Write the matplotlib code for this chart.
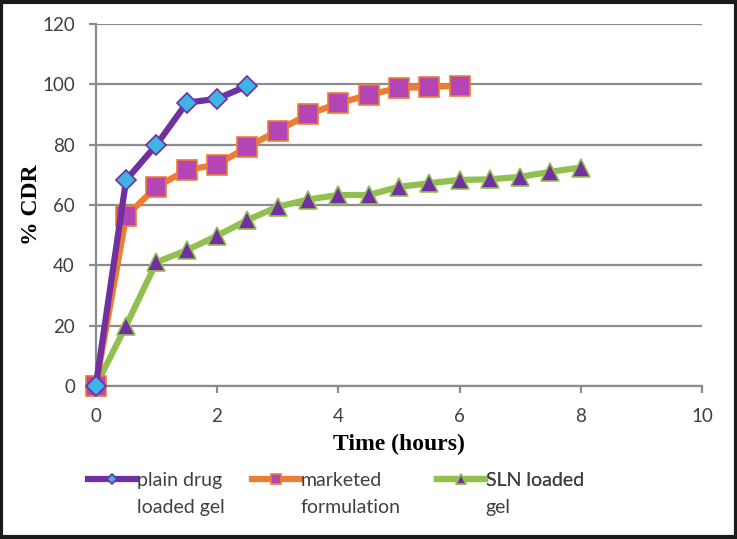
import numpy as np
from matplotlib import pyplot as plt
from matplotlib.patches import Rectangle

# release data (% CDR vs time in hours)
t_plain = [0, 0.5, 1, 1.5, 2, 2.5]
cdr_plain = [0, 68.3, 79.9, 93.9, 95.2, 99.5]

t_marketed = [0, 0.5, 1, 1.5, 2, 2.5, 3, 3.5, 4, 4.5, 5, 5.5, 6]
cdr_marketed = [0, 56.3, 66, 71.6, 73.4, 79.2, 84.6, 90, 93.7, 96.5, 98.8, 99.1, 99.6]

t_sln = [0, 0.5, 1, 1.5, 2, 2.5, 3, 3.5, 4, 4.5, 5, 5.5, 6, 6.5, 7, 7.5, 8]
cdr_sln = [0, 20, 41, 45, 49.8, 55, 59.4, 61.8, 63.3, 63.3, 66, 67.2, 68.3, 68.5, 69.3, 71, 72.4]

# legend text split in two lines as in the original
labels_top = ['plain drug', 'marketed', 'SLN loaded']
labels_bottom = ['loaded gel', 'formulation', 'gel']

tick_font = 'Lato'
label_font = 'Liberation Serif'
text_col = '#404040'
fs = 14

f = plt.figure(figsize=(7.37, 5.39), dpi=100)
ax = f.add_axes([0.130, 0.284, 0.8225, 0.6715])

grid_col = '#8c8c8c'

# lines
l1, = ax.plot(t_plain, cdr_plain, color='#7030A0', lw=4.5, marker='D', ms=10,
              mfc='#3CB4E6', mec='#7030A0', mew=1.2, clip_on=False, zorder=5)
l2, = ax.plot(t_marketed, cdr_marketed, color='#ED7D31', lw=4.5, marker='s', ms=14,
              mfc='#B445B4', mec='#ED7D31', mew=1.2, clip_on=False, zorder=4)
l3, = ax.plot(t_sln, cdr_sln, color='#92C050', lw=4.5, marker='^', ms=13,
              mfc='#7030A0', mec='#92C050', mew=1.2, clip_on=False, zorder=3)

ax.set_xlim(0, 10)
ax.set_ylim(0, 120)
ax.set_xticks(np.arange(0, 11, 2))
ax.set_yticks(np.arange(0, 121, 20))

# grid
ax.yaxis.grid(True, color=grid_col, lw=1.6)
ax.set_axisbelow(True)
for s in ['top', 'right']:
    ax.spines[s].set_visible(False)
for s in ['left', 'bottom']:
    ax.spines[s].set_color(grid_col)
    ax.spines[s].set_linewidth(1.6)
ax.tick_params(axis='both', colors=grid_col, width=1.6, length=5, direction='out')
ax.tick_params(axis='x', pad=11)
ax.tick_params(axis='y', pad=10)
for lab in ax.get_xticklabels() + ax.get_yticklabels():
    lab.set_fontfamily(tick_font)
    lab.set_fontsize(13.5)
    lab.set_color(text_col)

ax.set_xlabel('Time (hours)', fontfamily=label_font, fontweight='bold',
              fontsize=17, color='black', labelpad=6)
ax.set_ylabel('% CDR', fontfamily=label_font, fontweight='bold',
              fontsize=17, color='black', labelpad=0)

# one small legend per series, side by side under the axes
leg_x = [88 / 737, 252 / 737, 437 / 737]
leg_top = 1 - 472 / 539
legends = []
for line, name, lx in zip([l1, l2, l3], labels_top, leg_x):
    lg = ax.legend(handles=[line], labels=[name], loc='upper left',
                   bbox_to_anchor=(lx, leg_top), bbox_transform=f.transFigure,
                   frameon=False, prop={'family': tick_font, 'size': fs},
                   handlelength=2.45, handletextpad=0.05, borderpad=0,
                   borderaxespad=0, markerscale=0.5)
    lg.get_texts()[0].set_color(text_col)
    ax.add_artist(lg)
    legends.append(lg)

# second line of each legend entry, placed under the first
f.canvas.draw()
for lg, extra in zip(legends, labels_bottom):
    bb = lg.get_texts()[0].get_window_extent()
    x0 = bb.x0 / f.bbox.width
    yc = ((bb.y0 + bb.y1) / 2 - 27) / f.bbox.height
    f.text(x0, yc, extra, ha='left', va='center', family=tick_font,
           fontsize=fs, color=text_col)

# outer frame
f.add_artist(Rectangle((0.002, 0.003), 0.996, 0.994, transform=f.transFigure,
                       fill=False, edgecolor='#1a1a1a', lw=3))

f.savefig('out.png', dpi=100)
